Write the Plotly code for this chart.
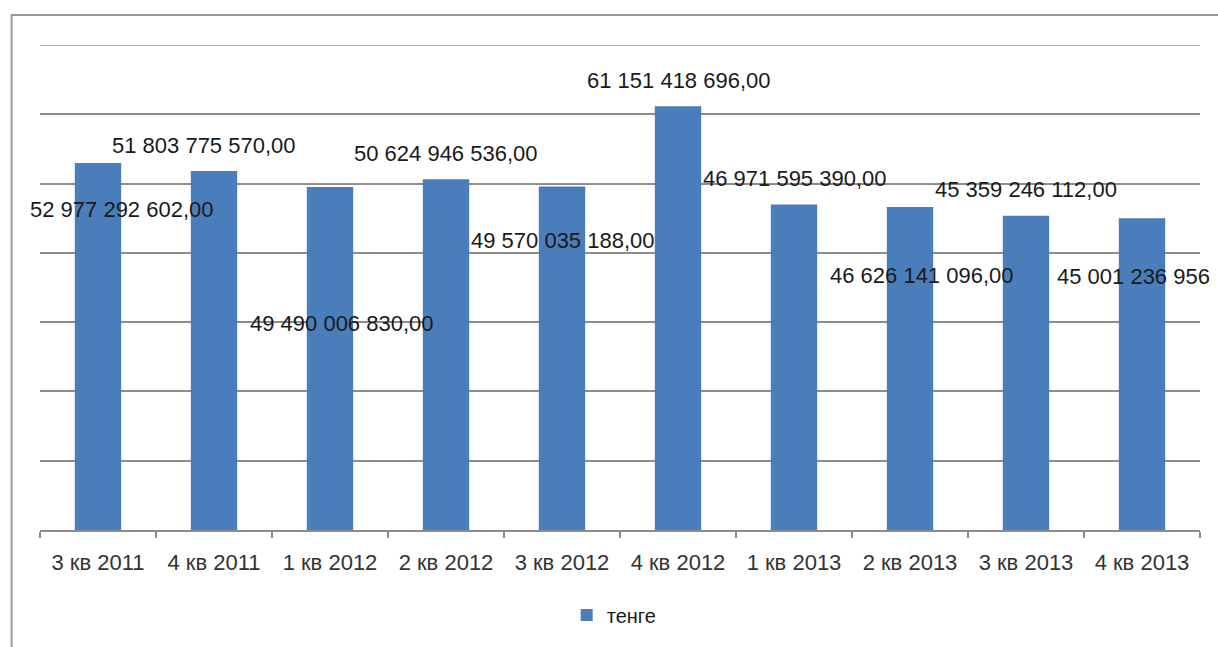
import plotly.graph_objects as go

categories = ["3 кв 2011", "4 кв 2011", "1 кв 2012", "2 кв 2012", "3 кв 2012",
              "4 кв 2012", "1 кв 2013", "2 кв 2013", "3 кв 2013", "4 кв 2013"]
values = [52977292602.00, 51803775570.00, 49490006830.00, 50624946536.00, 49570035188.00,
          61151418696.00, 46971595390.00, 46626141096.00, 45359246112.00, 45001236956.00]
labels = ["52 977 292 602,00", "51 803 775 570,00", "49 490 006 830,00", "50 624 946 536,00",
          "49 570 035 188,00", "61 151 418 696,00", "46 971 595 390,00", "46 626 141 096,00",
          "45 359 246 112,00", "45 001 236 956"]
series_name = "тенге"
y_max = 7e10
y_step = 1e10

# label placement (pixel shifts relative to bar top)
xshifts = [24, -10, 12, 0, 1, 1, 1, 12, 0, -87]
yshifts = [-47, 26, -136, 26, -54, 26, 26, -69, 26, -58]
xanchors = ["center"] * 9 + ["left"]

FONT = "Liberation Sans, Arial, sans-serif"
GRID = "#8c8c8c"

fig = go.Figure()
fig.add_trace(go.Bar(
    x=categories, y=values, name=series_name,
    marker=dict(color="#4A7EBB", line=dict(width=0)),
    showlegend=True,
))

for c, v, t, xs, ys, xa in zip(categories, values, labels, xshifts, yshifts, xanchors):
    fig.add_annotation(x=c, y=v, text=t, showarrow=False, xref="x", yref="y",
                       xshift=xs, yshift=ys, xanchor=xa, yanchor="middle",
                       font=dict(family=FONT, size=22, color="#1a1a1a"))

# top gridline at the axis maximum
fig.add_shape(type="line", xref="paper", yref="y", x0=0, x1=1, y0=y_max, y1=y_max,
              line=dict(color=GRID, width=1.5), layer="below")

# chart border
fig.add_shape(type="rect", xref="paper", yref="paper",
              x0=-0.0245, x1=1.1, y0=-1.0, y1=1.062,
              line=dict(color="#9a9a9a", width=2), fillcolor="rgba(0,0,0,0)", layer="below")

fig.update_layout(
    width=1218, height=647,
    margin=dict(l=40, r=18, t=45, b=117, autoexpand=False),
    paper_bgcolor="white", plot_bgcolor="white",
    bargap=0.6,
    showlegend=True,
    legend=dict(orientation="h", x=0.495, xanchor="center", y=-0.175, yanchor="middle",
                font=dict(family=FONT, size=20, color="#1a1a1a")),
    xaxis=dict(range=[-0.5, len(categories) - 0.5], autorange=False,
               showgrid=False, showline=True, linecolor=GRID, linewidth=2,
               ticks="outside", tickson="boundaries", ticklen=6, tickcolor=GRID,
               tickwidth=1.5, ticklabelstandoff=12, automargin=False,
               tickfont=dict(family=FONT, size=22, color="#333333")),
    yaxis=dict(range=[0, y_max], autorange=False, tick0=0, dtick=y_step, showgrid=True,
               gridcolor=GRID, gridwidth=1.5, showticklabels=False, zeroline=False,
               showline=False, automargin=False),
)

fig.write_html("out.html")
